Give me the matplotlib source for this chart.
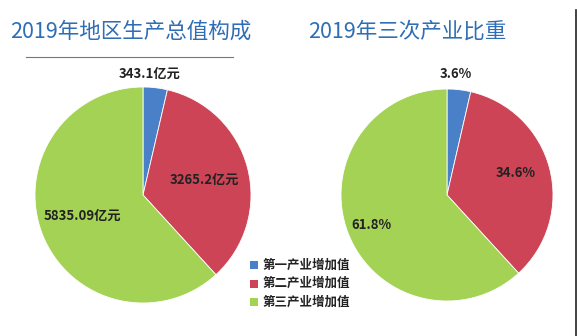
import matplotlib
matplotlib.use("Agg")
import matplotlib.pyplot as plt
from matplotlib.patches import Rectangle
from matplotlib.lines import Line2D

plt.rcParams['font.family'] = ['Noto Sans CJK SC', 'DejaVu Sans']

# data
categories = ["第一产业增加值", "第二产业增加值", "第三产业增加值"]
gdp_values = [343.1, 3265.2, 5835.09]          # 亿元
gdp_labels = ["343.1亿元", "3265.2亿元", "5835.09亿元"]
share_values = [3.6, 34.6, 61.8]               # %
share_labels = ["3.6%", "34.6%", "61.8%"]

colors = ["#4a80c8", "#cc4455", "#a3d255"]
title_color = "#2f6db5"

W, H = 577, 336
fig = plt.figure(figsize=(W / 100, H / 100), dpi=100)
fig.patch.set_facecolor("white")


def px_axes(cx, cy, r):
    # axes box from pixel centre/radius (y measured from top)
    return fig.add_axes([(cx - r) / W, (H - cy - r) / H, 2 * r / W, 2 * r / H])


def draw_pie(ax, values, labels, label_pos):
    ax.pie(values, colors=colors, startangle=90, counterclock=False,
           wedgeprops=dict(edgecolor="white", linewidth=0.6))
    ax.set_xlim(-1, 1)
    ax.set_ylim(-1, 1)
    ax.axis("off")
    for lab, (x, y) in zip(labels, label_pos):
        ax.text(x, y, lab, ha="center", va="center", fontsize=9.5,
                color="#222222", fontweight="semibold", clip_on=False)


ax1 = px_axes(143, 195, 108)
draw_pie(ax1, gdp_values, gdp_labels,
         [(0.06, 1.12), (0.57, 0.14), (-0.56, -0.19)])

ax2 = px_axes(447, 195, 106)
draw_pie(ax2, share_values, share_labels,
         [(0.08, 1.14), (0.65, 0.21), (-0.71, -0.28)])

# titles
fig.text(131 / W, 1 - 32 / H, "2019年地区生产总值构成", ha="center", va="center",
         fontsize=15.5, color=title_color)
fig.text(407 / W, 1 - 32 / H, "2019年三次产业比重", ha="center", va="center",
         fontsize=15.5, color=title_color)

# rule under left title and right border
fig.add_artist(Line2D([26 / W, 233 / W], [1 - 57 / H, 1 - 57 / H],
                      color="#777777", linewidth=0.8))
fig.add_artist(Line2D([575.5 / W, 575.5 / W], [0, 1 - 10 / H],
                      color="#222222", linewidth=1.2))

# legend
for i, (cat, c) in enumerate(zip(categories, colors)):
    y = 265 + i * 18.5
    fig.add_artist(Rectangle((250 / W, 1 - (y + 4) / H), 8 / W, 8 / H,
                             facecolor=c, edgecolor="none"))
    fig.text(263 / W, 1 - y / H, cat, ha="left", va="center",
             fontsize=9, color="#222222", fontweight="semibold")

fig.savefig("out.png", dpi=100, facecolor="white")
